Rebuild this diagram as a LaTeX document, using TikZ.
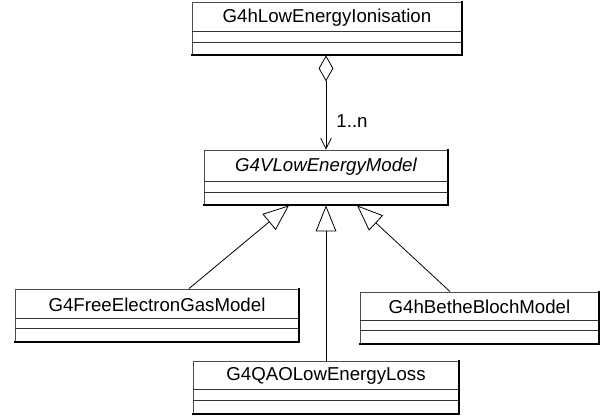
\documentclass[tikz,border=0pt]{standalone}
\usepackage{fontspec}
\setmainfont{Liberation Sans}
\usetikzlibrary{arrows.meta,fit,calc}
\tikzset{
  classbox/.style={draw=black!70, line width=0.6pt, inner sep=0pt, fill=white},
  sepline/.style={draw=black!80, line width=0.6pt},
  shadowedge/.style={draw=black, line width=1.4pt, line cap=rect},
  classname/.style={font=\fontsize{14}{16}\selectfont, inner sep=0pt, anchor=center},
  conn/.style={draw=black, line width=0.6pt},
  agg/.style={conn, {Diamond[open, length=19.5pt, width=11pt]}-{Straight Barb[length=8pt, width=8pt]}},
  gen/.style={conn, -{Triangle[open, length=19.5pt, width=15.5pt, fill=white]}},
  mult/.style={font=\fontsize{14}{16}\selectfont, inner sep=0pt}
}
\newcommand{\umlclass}[8]{%
  \node[classbox, fit={(#2,#3) (#4,#5)}] (#1) {};
  \draw[sepline] (#2,#6) -- (#4,#6);
  \draw[sepline] (#2,#7) -- (#4,#7);
  \draw[shadowedge] (#1.south west) -- (#1.south east) -- (#1.north east);
  \node[classname] (#1-name) at ({(#2+#4)/2},{(#3+#6)/2+1}) {#8};
}
\begin{document}
\begin{tikzpicture}[x=0.75pt,y=-0.75pt]
\useasboundingbox (0,0) rectangle (608,420);
\fill[white] (0,0) rectangle (608,420);

\umlclass{top}{192}{2}{462}{55}{31}{42}{G4hLowEnergyIonisation}
\umlclass{mid}{204}{150}{448}{205}{181}{192}{\itshape G4VLowEnergyModel}
\umlclass{lft}{15}{289}{299}{342}{318}{328}{G4FreeElectronGasModel}
\umlclass{rgt}{360}{292}{599}{344}{320}{330}{G4hBetheBlochModel}
\umlclass{bot}{193}{361}{459}{414}{389}{400}{G4QAOLowEnergyLoss}

% aggregation
\draw[agg] (top.south -| mid.north) -- (mid.north);
\node[mult] (m1) at (352,121) {1..n};

% generalisations
\coordinate (a1) at (189,0);
\coordinate (a2) at (289,0);
\coordinate (b1) at (450,0);
\coordinate (b2) at (357,0);
\draw[gen] (a1 |- lft.north) -- (a2 |- mid.south);
\draw[gen] (bot.north -| mid.south) -- (mid.south);
\draw[gen] (b1 |- rgt.north) -- (b2 |- mid.south);
\end{tikzpicture}
\end{document}
